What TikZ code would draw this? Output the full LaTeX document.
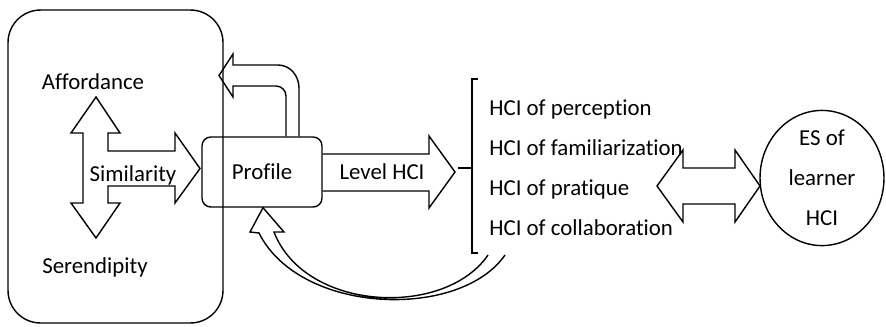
\documentclass[tikz,border=0pt]{standalone}
\usepackage{fontspec}
\setmainfont{Carlito}[Ligatures=NoCommon]
\usetikzlibrary{shapes.geometric,positioning,calc}
\tikzset{
  groupbox/.style={rectangle, rounded corners=0.65cm, draw=black, line width=0.8pt,
                   minimum width=4.3cm, minimum height=6.26cm},
  profilebox/.style={rectangle, rounded corners=5pt, draw=black, line width=0.8pt,
                     minimum width=2.4cm, minimum height=1.4cm,
                     font=\fontsize{13}{15}\selectfont},
  term/.style={inner sep=0pt, font=\fontsize{13}{15}\selectfont},
  hcilist/.style={inner sep=0pt, align=left, font=\fontsize{13}{22.7}\selectfont},
  esnode/.style={ellipse, draw=black, line width=0.8pt, minimum width=2.48cm,
                 minimum height=2.32cm, inner sep=0pt, align=center,
                 font=\fontsize{13}{22.7}\selectfont},
  blockarrow/.style={draw=black, line width=0.8pt, line join=miter},
  bracket/.style={draw=black, line width=0.8pt}
}
\begin{document}
\begin{tikzpicture}[x=0.02cm, y=-0.02cm]
\useasboundingbox (0,0) rectangle (886,326);
% left group
\node[groupbox] (group) at (115.5,166.5) {};
\node[term] (afford) at (93,82) {Affordance};
\node[term] (seren) at (95,267) {Serendipity};
% similarity cross arrow
\draw[blockarrow] (96,97) -- (120,133) -- (108,133) -- (108,151) -- (175,151)
  -- (175,133) -- (200,168.5) -- (175,203) -- (175,186) -- (108,186)
  -- (108,203) -- (120,203) -- (96,238) -- (71,203) -- (83,203)
  -- (83,133) -- (71,133) -- cycle;
\node[term] (simil) at (133,175) {Similarity};
% profile
\node[profilebox] (profile) at (262,172) {Profile};
% back to the group
\draw[blockarrow] (profile.north -| 299,0) -- (299,88) to[out=90,in=0] (278,65)
  -- (233,65) -- (233,54) -- (219,75.5) -- (233,97) -- (233,86) -- (276,86)
  to[out=0,in=90] (286,96) -- (profile.north -| 286,0);
% level HCI
\draw[blockarrow] (profile.east |- 0,154) -- (429,154) -- (429,136) -- (455,172)
  -- (429,208) -- (429,191) -- (profile.east |- 0,191);
\node[term] (level) at (382,172) {Level HCI};
% list of HCI
\node[hcilist, anchor=west] (list) at (489,168)
  {HCI of perception\\HCI of familiarization\\HCI of pratique\\HCI of collaboration};
\draw[bracket] (478,79) -- (472,79) -- (472,253) -- (478,253);
\draw[bracket] (458,168) -- (472,168);
% feedback to profile
\draw[blockarrow] (505,255) .. controls (460,320) and (300,315) .. (259,233)
  -- (250,232) -- (profile.south -| 263,0) -- (284,232) -- (274,232)
  .. controls (305,312) and (445,318) .. (488,255);
% learner
\node[esnode] (es) at (822,178) {ES of\\learner\\HCI};
\draw[blockarrow] (657,186) -- (683,150) -- (683,168) -- (735,168) -- (735,150)
  -- (760,186) -- (735,222) -- (735,204) -- (683,204) -- (683,222) -- cycle;
\end{tikzpicture}
\end{document}
